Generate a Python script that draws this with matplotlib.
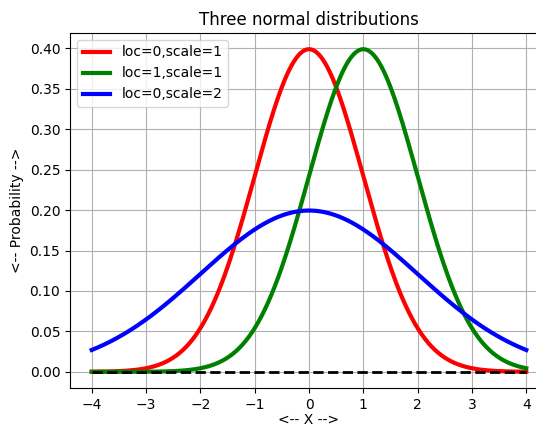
import numpy as np
import matplotlib
matplotlib.use("Agg")
import matplotlib.pyplot as plt

# distribution parameters, as given in the legend
locs = [0, 1, 0]
scales = [1, 1, 2]
colors = ["red", "green", "blue"]
labels = ["loc=0,scale=1", "loc=1,scale=1", "loc=0,scale=2"]

x = np.linspace(-4, 4, 400)


def norm_pdf(x, loc, scale):
    return np.exp(-0.5 * ((x - loc) / scale) ** 2) / (scale * np.sqrt(2 * np.pi))


W, H = 536, 425
fig = plt.figure(figsize=(W / 100, H / 100), dpi=100)
ax = fig.add_axes([70 / W, 1 - 388 / H, 478 / W, 355 / H])

for loc, scale, c, lab in zip(locs, scales, colors, labels):
    ax.plot(x, norm_pdf(x, loc, scale), color=c, linewidth=3, label=lab)
ax.plot(x, np.zeros_like(x), "k--", linewidth=2)

ax.set_xlim(-4.4, 4.4)
ax.set_ylim(-0.02, 0.419)
ax.spines["right"].set_visible(False)
ax.set_title("Three normal distributions")
ax.set_xlabel("<-- X -->", labelpad=1)
ax.set_ylabel("<-- Probability -->")
ax.grid(True)
ax.legend(loc="upper left")

fig.savefig("out.png", dpi=100)
